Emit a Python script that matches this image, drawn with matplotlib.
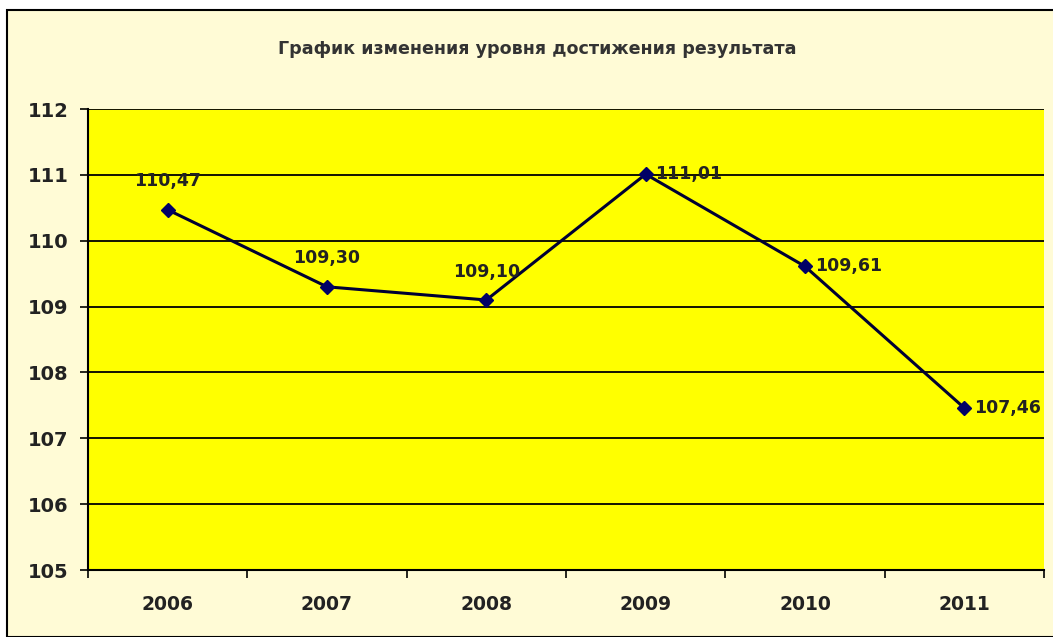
import matplotlib.pyplot as plt
from matplotlib.patches import Rectangle

plt.rcParams['font.family'] = ['DejaVu Sans']

years = ['2006', '2007', '2008', '2009', '2010', '2011']
values = [110.47, 109.30, 109.10, 111.01, 109.61, 107.46]
labels = ['110,47', '109,30', '109,10', '111,01', '109,61', '107,46']
# where Excel put each data label: 'above' or 'right'
label_pos = ['above', 'above', 'above', 'right', 'right', 'right']

bg = '#fffbd6'
ink = '#222222'
fig = plt.figure(figsize=(10.53, 6.37), dpi=100, facecolor='white')
# chart area with thin black frame, kept behind the axes
fig.patches.append(Rectangle((7 / 1053, 0), 1.0, 1 - 10 / 637, transform=fig.transFigure,
                             facecolor=bg, edgecolor='black', linewidth=1.5, zorder=-10))

ax = fig.add_axes([88 / 1053, 1 - 570 / 637, (1044 - 88) / 1053, (570 - 109) / 637])
ax.set_zorder(5)
ax.set_facecolor('#ffff00')

x = list(range(len(years)))
ax.plot(x, values, color='#000033', linewidth=2.2, marker='D', markersize=7,
        markerfacecolor='#000066', markeredgecolor='#000066', zorder=3)

for xi, v, lab, pos in zip(x, values, labels, label_pos):
    if pos == 'above':
        ax.annotate(lab, (xi, v), xytext=(0, 14), textcoords='offset points',
                    ha='center', va='bottom', fontsize=12.5, fontweight='bold', color=ink)
    else:
        ax.annotate(lab, (xi, v), xytext=(7, 0), textcoords='offset points',
                    ha='left', va='center', fontsize=12.5, fontweight='bold', color=ink)

ax.set_xlim(-0.5, len(years) - 0.5)
ax.set_ylim(105, 112)
ax.set_yticks(range(105, 113))
ax.yaxis.grid(True, color='black', linewidth=1.3)
ax.set_axisbelow(True)

ax.set_xticks(x)
ax.set_xticklabels(years, fontsize=13.5, fontweight='bold', color=ink)
ax.set_xticks([i - 0.5 for i in range(len(years) + 1)], minor=True)
ax.tick_params(axis='x', which='major', length=0, pad=18)
ax.tick_params(axis='x', which='minor', length=6, width=1.2, direction='out')
ax.tick_params(axis='y', length=6, width=1.2, direction='out', pad=8,
               labelsize=14)
for t in ax.get_yticklabels():
    t.set_fontweight('bold')
    t.set_color(ink)

for side in ['top', 'right']:
    ax.spines[side].set_visible(False)
ax.spines['left'].set_linewidth(1.5)
ax.spines['bottom'].set_linewidth(1.5)

fig.text(537 / 1053, 1 - 49 / 637, 'График изменения уровня достижения результата',
         ha='center', va='center', fontsize=12.6, fontweight='bold', color='#333333')

fig.savefig('out.png', dpi=100, facecolor='white')
